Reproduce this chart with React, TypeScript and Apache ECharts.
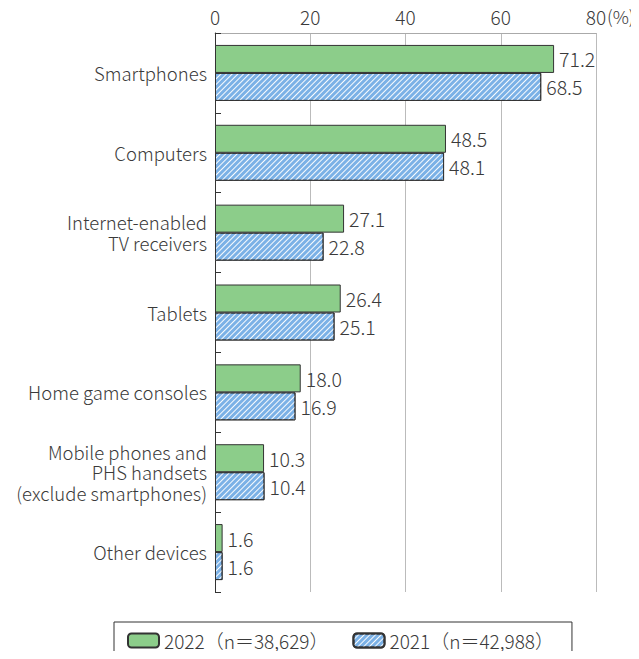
import React, { useEffect, useRef } from "react";
import * as echarts from "echarts";

const categories = [
  "Smartphones",
  "Computers",
  "Internet-enabled\nTV receivers",
  "Tablets",
  "Home game consoles",
  "Mobile phones and\nPHS handsets\n(exclude smartphones)",
  "Other devices",
];
const values2022 = [71.2, 48.5, 27.1, 26.4, 18.0, 10.3, 1.6];
const values2021 = [68.5, 48.1, 22.8, 25.1, 16.9, 10.4, 1.6];
const seriesNames = ["2022（n＝38,629）", "2021（n＝42,988）"];
const xTicks = { min: 0, max: 80, interval: 20 };
const unitLabel = "(%)";

const FONT = "'Noto Sans CJK JP', 'Noto Sans', sans-serif";
const TEXT = "#3a3a3a";
const W = 300;

export default function App() {
  const ref = useRef<HTMLDivElement>(null);
  useEffect(() => {
    if (!ref.current) return;
    const chart = echarts.init(ref.current, null, { renderer: "svg" });
    const labelCfg = {
      show: true,
      position: "right" as const,
      distance: 5,
      color: TEXT,
      fontSize: 19.5,
      fontWeight: W,
      fontFamily: FONT,
      formatter: (p: any) => Number(p.value).toFixed(1),
    };
    chart.setOption({
      animation: false,
      textStyle: { fontFamily: FONT },
      grid: { left: 215, right: 43, top: 33, height: 559, containLabel: false },
      xAxis: {
        type: "value",
        position: "top",
        min: xTicks.min,
        max: xTicks.max,
        interval: xTicks.interval,
        axisLine: { show: true, lineStyle: { color: "#aaa", width: 1 } },
        axisTick: { show: false },
        splitLine: { show: true, lineStyle: { color: "#bbb", width: 1 } },
        axisLabel: { color: TEXT, fontSize: 19, fontWeight: W, fontFamily: FONT, margin: 7 },
      },
      yAxis: {
        type: "category",
        inverse: true,
        data: categories,
        axisLine: { show: true, lineStyle: { color: "#333", width: 1 } },
        axisTick: { show: true, inside: true, length: 6, lineStyle: { color: "#333" } },
        axisLabel: {
          color: TEXT,
          fontSize: 18.5,
          fontWeight: W,
          fontFamily: FONT,
          margin: 8,
          lineHeight: 20.5,
          align: "right",
        },
      },
      legend: {
        left: 114,
        top: 622,
        orient: "horizontal",
        itemWidth: 31,
        itemHeight: 14,
        itemGap: 24,
        padding: [9, 18, 20, 13],
        borderColor: "#333",
        borderWidth: 1,
        textStyle: { color: TEXT, fontSize: 19, fontWeight: W, fontFamily: FONT },
        data: seriesNames,
      },
      series: [
        {
          name: seriesNames[0],
          type: "bar",
          data: values2022,
          barWidth: 28,
          barGap: "0%",
          itemStyle: { color: "#8ccd8a", borderColor: "#333", borderWidth: 1 },
          label: labelCfg,
        },
        {
          name: seriesNames[1],
          type: "bar",
          data: values2021,
          barWidth: 28,
          barGap: "0%",
          itemStyle: {
            color: "#7bb1e6",
            borderColor: "#333",
            borderWidth: 1,
            decal: {
              symbol: "rect",
              symbolSize: 1,
              color: "rgba(255,255,255,0.95)",
              dashArrayX: [1, 0],
              dashArrayY: [1, 3],
              rotation: -Math.PI / 4,
            },
          },
          label: labelCfg,
        },
      ],
      graphic: [
        {
          type: "text",
          left: 607,
          top: 7,
          style: { text: unitLabel, fill: TEXT, fontSize: 18, fontWeight: W, fontFamily: FONT },
        },
      ],
    });
    return () => chart.dispose();
  }, []);
  return <div ref={ref} style={{ width: 639, height: 659, margin: -8 }} />;
}
